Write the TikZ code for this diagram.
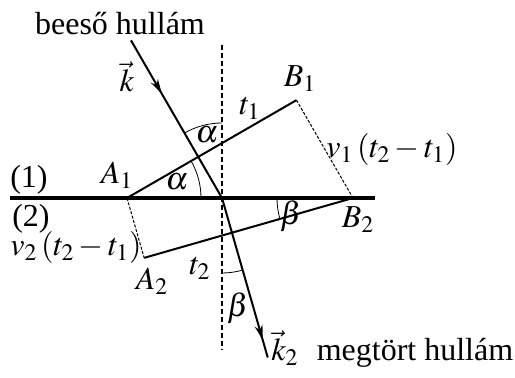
\documentclass[tikz,border=0pt]{standalone}
\usepackage{mathptmx}
\usepackage[no-math]{fontspec}
\setmainfont{Liberation Serif}
\usetikzlibrary{
  arrows.meta,
  calc,
  decorations.markings
}
\tikzset{
  boundary/.style={line width=2pt},
  normline/.style={line width=0.8pt, dash pattern=on 2.5pt off 1.5pt},
  ray/.style={line width=1pt},
  wavefront/.style={line width=1pt},
  guide/.style={line width=0.5pt, dash pattern=on 1.5pt off 0.8pt},
  anglearc/.style={line width=0.4pt},
  lbl/.style={inner sep=0pt, anchor=base, font=\fontsize{16}{19}\selectfont},
  midarrow/.style={
    postaction={decorate},
    decoration={markings, mark=at position #1 with {\arrow{Stealth[length=7.5pt, width=4pt]}}}
  }
}

\begin{document}
\begin{tikzpicture}[x=0.5pt, y=0.5pt]
  \useasboundingbox (-222,-180) rectangle (293,198);
  % points of the construction
  \coordinate (O) at (0,0);
  \coordinate (L) at (-212,0);
  \coordinate (R) at (153,0);
  \coordinate (N1) at (0,153);
  \coordinate (N2) at (0,-152);
  \coordinate (K0) at (120:182);
  \coordinate (K2) at (-74:166);
  \coordinate (A1) at (-95,0);
  \coordinate (B2) at (131,0);
  \coordinate (B1) at ($(A1)+(30:{226*cos(30)})$);
  \coordinate (A2) at ($(A1)+(-74:{226*sin(16)})$);

  \draw[boundary] (L) -- (R);
  \draw[normline] (N1) -- (N2);
  \draw[ray, midarrow=0.34] (K0) -- (O);
  \draw[ray, midarrow=0.89] (O) -- (K2);
  \draw[wavefront] (A1) -- (B1);
  \draw[wavefront] (A2) -- (B2);
  \draw[guide] (B1) -- (B2);
  \draw[guide] (A1) -- (A2);

  % angles
  \draw[anglearc] ($(O)+(90:75)$) arc[start angle=90, end angle=120, radius=37.5pt];
  \draw[anglearc] ($(A1)+(0:74)$) arc[start angle=0, end angle=30, radius=37pt];
  \draw[anglearc] ($(B2)+(180:76)$) arc[start angle=180, end angle=196, radius=38pt];
  \draw[anglearc] ($(O)+(270:75)$) arc[start angle=270, end angle=286, radius=37.5pt];

  % labels
  \node[lbl] (inc) at (-102,163) {beeső hullám};
  \node[lbl] (refr) at (193,-163) {megtört hullám};
  \node[lbl] (kin) at (-95,106) {$\vec{k}$};
  \node[lbl] (kout) at (63,-163) {$\vec{k}_2$};
  \node[lbl] (med1) at (-193,10) {(1)};
  \node[lbl] (med2) at (-191,-29) {(2)};
  \node[lbl] (la1) at (-105,14) {$A_1$};
  \node[lbl] (la2) at (-70,-92) {$A_2$};
  \node[lbl] (lb1) at (78,111) {$B_1$};
  \node[lbl] (lb2) at (136,-30) {$B_2$};
  \node[lbl] (lt1) at (28,83) {$t_1$};
  \node[lbl] (lt2) at (-22,-77) {$t_2$};
  \node[lbl] (lv1) at (170,40) {$v_1\left(t_2-t_1\right)$};
  \node[lbl] (lv2) at (-146,-58) {$v_2\left(t_2-t_1\right)$};
  \node[lbl] (al1) at (-15,55) {$\alpha$};
  \node[lbl] (al2) at (-45,8) {$\alpha$};
  \node[lbl] (be1) at (69,-27) {$\beta$};
  \node[lbl] (be2) at (16,-119) {$\beta$};
\end{tikzpicture}
\end{document}
